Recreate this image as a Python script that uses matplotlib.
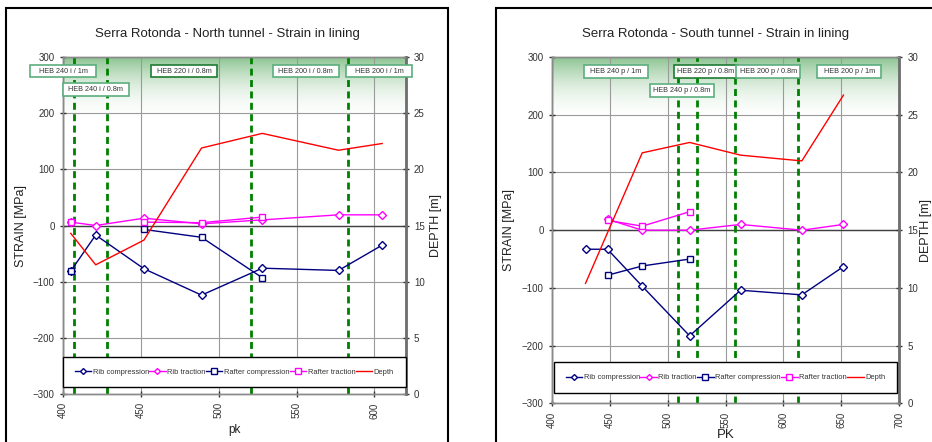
import numpy as np
import matplotlib
matplotlib.use('Agg')
import matplotlib.pyplot as plt
from matplotlib.patches import Rectangle
from matplotlib.lines import Line2D

plt.rcParams['font.family'] = ['Liberation Sans', 'DejaVu Sans']

# ---- North tunnel data ----
pk_n = [405, 421, 452, 489, 528, 577, 605]
rib_comp_n = [-81, -17, -77, -124, -76, -80, -35]
rib_trac_n = [6, 0, 13, 3, 10, 19, 19]
pk_raft_n = [405, 421, 452, 489, 528]
raft_comp_n = [-81, np.nan, -7, -21, -93]
raft_trac_n = [6, np.nan, 6, 5, 15]
depth_n = [14.3, 11.5, 13.7, 21.9, 23.2, 21.7, 22.3]
changes_n = [407, 428, 521, 583]
labels_n = ['HEB 240 i / 1m', 'HEB 240 i / 0.8m', 'HEB 220 i / 0.8m',
            'HEB 200 i / 0.8m', 'HEB 200 i / 1m']

# ---- South tunnel data ----
pk_s = [429, 448, 478, 519, 563, 616, 652]
rib_comp_s = [-33, -33, -97, -183, -104, -112, -63]
rib_trac_s = [np.nan, 19, 0, 0, 10, 0, 10]
pk_raft_s = [448, 478, 519]
raft_comp_s = [-78, -62, -50]
raft_trac_s = [17, 7, 32]
pk_depth_s = [429, 478, 519, 563, 616, 652]
depth_s = [10.4, 21.7, 22.6, 21.5, 21.0, 26.7]
changes_s = [509, 525, 558, 613]
labels_s = ['HEB 240 p / 1m', 'HEB 240 p / 0.8m', 'HEB 220 p / 0.8m',
            'HEB 200 p / 0.8m', 'HEB 200 p / 1m']

W, H = 932, 442
fig = plt.figure(figsize=(W / 100, H / 100), dpi=100)

# chart frames
fig.patches.append(Rectangle((6 / W, -0.1), (448 - 6) / W, 1.1 - 8 / H,
                             transform=fig.transFigure, fill=False,
                             edgecolor='black', lw=1.5))
fig.patches.append(Rectangle((496 / W, -0.1), 0.6, 1.1 - 8 / H,
                             transform=fig.transFigure, fill=False,
                             edgecolor='black', lw=1.5))


def panel(rect, xlim, xticks, title, title_x, xlabel, xlabel_size, pads,
          pk, rc, rt, pkr, rfc, rft, pkd, dep, changes, labels, label_pos,
          label_w, strong, leg_box):
    ax = fig.add_axes(rect)
    ax.set_xlim(*xlim)
    ax.set_ylim(-300, 300)
    ax.set_axisbelow(True)
    ax.set_xticks(xticks)
    ax.set_yticks(range(-300, 301, 100))
    ax.grid(True, color='#9a9a9a', lw=0.8)
    ax.axhline(0, color='#404040', lw=1, zorder=1)

    # green gradient band at the top
    grad = np.zeros((100, 2, 4))
    grad[..., 0] = 0.53
    grad[..., 1] = 0.76
    grad[..., 2] = 0.55
    grad[..., 3] = np.linspace(0, 1, 100)[:, None] ** 2.2
    ax.imshow(grad, extent=[0, 1, 0.80, 1], transform=ax.transAxes,
              aspect='auto', origin='lower', zorder=0)

    for x in changes:
        ax.axvline(x, color='#008000', lw=2, dashes=(2.5, 1.6), zorder=2)

    ax.plot(pk, rc, color='#000080', lw=1, marker='D', ms=3.8, mfc='white',
            mew=1, zorder=3)
    ax.plot(pk, rt, color='#ff00ff', lw=1, marker='D', ms=3.8, mfc='white',
            mew=1, zorder=3)
    ax.plot(pkr, rfc, color='#000080', lw=1, marker='s', ms=5, mfc='white',
            mew=1, zorder=3)
    ax.plot(pkr, rft, color='#ff00ff', lw=1, marker='s', ms=5, mfc='white',
            mew=1, zorder=3)

    ax2 = ax.twinx()
    ax2.set_ylim(0, 30)
    ax2.set_yticks(range(0, 31, 5))
    ax2.plot(pkd, dep, color='#ff0000', lw=1)

    for a in (ax, ax2):
        for s in a.spines.values():
            s.set_color('#8a8a8a')
            s.set_linewidth(1)
        a.tick_params(labelsize=7, colors='#333333', direction='inout',
                      length=5, width=1)
    ax2.spines['right'].set_color('#6e6e6e')
    ax2.spines['right'].set_linewidth(2)
    ax.spines['left'].set_color('#555555')
    ax.tick_params(axis='x', labelrotation=90)

    ax.set_ylabel('STRAIN [MPa]', fontsize=9, color='#222222', labelpad=pads[0])
    ax2.set_ylabel('DEPTH [m]', fontsize=9, color='#222222', labelpad=pads[1])
    ax.set_xlabel(xlabel, fontsize=xlabel_size, color='#222222',
                  labelpad=pads[2])
    fig.text(title_x / W, 1 - 34 / H, title, fontsize=9.5, color='#222222',
             ha='center', va='center')

    # section labels
    ax_w = rect[2] * W
    ax_h = rect[3] * H
    bw = label_w / ax_w
    bh = 12.5 / ax_h
    for (lx, ly), txt, st in zip(label_pos, labels, strong):
        fx = (lx - xlim[0]) / (xlim[1] - xlim[0])
        fy = (ly + 300) / 600
        ax2.add_patch(Rectangle((fx - bw / 2, fy - bh / 2), bw, bh,
                                transform=ax.transAxes, facecolor='white',
                                edgecolor='#1e7d32' if st else '#5cae7e',
                                lw=1.2, clip_on=False, zorder=5))
        ax2.text(fx, fy, txt, transform=ax.transAxes, fontsize=5.2,
                 color='#333333', ha='center', va='center', zorder=6,
                 clip_on=False)

    handles = [
        Line2D([], [], color='#000080', lw=1, marker='D', ms=3, mfc='white'),
        Line2D([], [], color='#ff00ff', lw=1, marker='D', ms=3, mfc='white'),
        Line2D([], [], color='#000080', lw=1, marker='s', ms=4, mfc='white'),
        Line2D([], [], color='#ff00ff', lw=1, marker='s', ms=4, mfc='white'),
        Line2D([], [], color='#ff0000', lw=1),
    ]
    names = ['Rib compression', 'Rib traction', 'Rafter compression',
             'Rafter traction', 'Depth']
    leg = ax2.legend(handles, names, ncol=5, fontsize=5.4, loc='center',
                     bbox_to_anchor=leg_box, mode='expand', frameon=True,
                     fancybox=False, edgecolor='black', handlelength=2.2,
                     handletextpad=0.2, columnspacing=0.8, borderaxespad=0,
                     borderpad=1.55)
    leg.get_frame().set_linewidth(1)
    leg.get_frame().set_alpha(1)
    leg.set_zorder(10)
    for t in leg.get_texts():
        t.set_color('#333333')
    return ax


panel([63 / W, 1 - 394 / H, 342.5 / W, 337 / H], (400, 620),
      range(400, 601, 50), 'Serra Rotonda - North tunnel - Strain in lining',
      227.5, 'pk', 8.5, (4, 4, 4),
      pk_n, rib_comp_n, rib_trac_n, pk_raft_n, raft_comp_n, raft_trac_n,
      pk_n, depth_n, changes_n, labels_n,
      [(400, 275), (421, 242), (478, 275), (556, 275), (603, 275)],
      66, [False, False, True, False, False],
      (0, 0.018, 1, 0.095))

panel([552 / W, 1 - 403.4 / H, 347 / W, 346.4 / H], (400, 700),
      range(400, 701, 50), 'Serra Rotonda - South tunnel - Strain in lining',
      716, 'PK', 9.5, (5, 1.5, 0.5),
      pk_s, rib_comp_s, rib_trac_s, pk_raft_s, raft_comp_s, raft_trac_s,
      pk_depth_s, depth_s, changes_s, labels_s,
      [(455, 275), (512, 242), (533, 275), (587, 275), (657, 275)],
      64, [False, False, True, False, False],
      (0.006, 0.024, 0.988, 0.101))

fig.savefig('out.png', dpi=100)
